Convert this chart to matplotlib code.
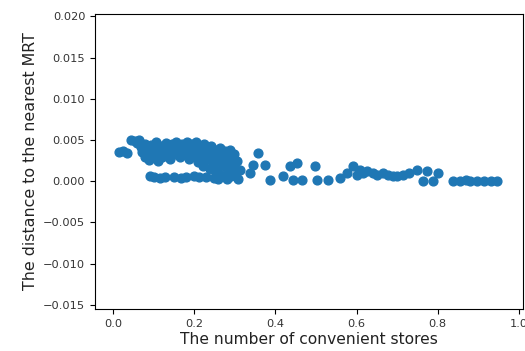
import numpy as np
import matplotlib
matplotlib.use("Agg")
import matplotlib.pyplot as plt

# convenient stores (normalised) vs distance to nearest MRT (normalised)
stores = [
    0.015, 0.025, 0.035, 0.045, 0.055, 0.060, 0.065, 0.070, 0.072, 0.078,
    0.080, 0.085, 0.088, 0.090, 0.092, 0.095, 0.098, 0.100, 0.102, 0.105,
    0.108, 0.110, 0.112, 0.115, 0.118, 0.120, 0.125, 0.128, 0.130, 0.135,
    0.138, 0.140, 0.145, 0.148, 0.150, 0.152, 0.155, 0.160, 0.162, 0.165,
    0.168, 0.170, 0.175, 0.178, 0.180, 0.182, 0.185, 0.188, 0.190, 0.195,
    0.198, 0.200, 0.202, 0.205, 0.208, 0.210, 0.212, 0.215, 0.218, 0.220,
    0.222, 0.225, 0.228, 0.230, 0.232, 0.235, 0.238, 0.240, 0.242, 0.245,
    0.248, 0.250, 0.252, 0.255, 0.258, 0.260, 0.262, 0.265, 0.268, 0.270,
    0.272, 0.275, 0.278, 0.280, 0.282, 0.285, 0.288, 0.290, 0.292, 0.295,
    0.298, 0.300, 0.305, 0.308, 0.313,
    0.337, 0.345, 0.357, 0.374, 0.387, 0.419, 0.436, 0.443, 0.453, 0.465,
    0.497, 0.502, 0.530, 0.559, 0.576, 0.591, 0.600, 0.608, 0.617, 0.626,
    0.640, 0.650, 0.665, 0.678, 0.690, 0.700, 0.715, 0.730, 0.750, 0.764,
    0.773, 0.788, 0.800, 0.837, 0.855, 0.870, 0.880, 0.897, 0.913, 0.930,
    0.946,
]
mrt_dist = [
    0.0035, 0.0037, 0.0034, 0.0050, 0.0049, 0.0046, 0.0050, 0.0042, 0.0036, 0.0030,
    0.0045, 0.0040, 0.0033, 0.0026, 0.0006, 0.0044, 0.0038, 0.0031, 0.0005, 0.0048,
    0.0040, 0.0035, 0.0025, 0.0004, 0.0043, 0.0030, 0.0037, 0.0005, 0.0046, 0.0041,
    0.0032, 0.0027, 0.0045, 0.0038, 0.0005, 0.0033, 0.0048, 0.0042, 0.0036, 0.0029,
    0.0004, 0.0045, 0.0039, 0.0033, 0.0005, 0.0048, 0.0042, 0.0027, 0.0036, 0.0045,
    0.0031, 0.0006, 0.0040, 0.0048, 0.0035, 0.0024, 0.0005, 0.0043, 0.0038, 0.0030,
    0.0018, 0.0045, 0.0033, 0.0005, 0.0040, 0.0026, 0.0036, 0.0015, 0.0043, 0.0031,
    0.0004, 0.0022, 0.0038, 0.0012, 0.0028, 0.0003, 0.0034, 0.0040, 0.0018, 0.0030,
    0.0008, 0.0037, 0.0024, 0.0003, 0.0032, 0.0014, 0.0038, 0.0027, 0.0006, 0.0020,
    0.0033, 0.0010, 0.0025, 0.0003, 0.0014,
    0.0010, 0.0020, 0.0034, 0.0020, 0.0002, 0.0006, 0.0018, 0.0002, 0.0022, 0.0002,
    0.0018, 0.0002, 0.0002, 0.0004, 0.0010, 0.0018, 0.0008, 0.0014, 0.0010, 0.0012,
    0.0010, 0.0008, 0.0010, 0.0008, 0.0006, 0.0006, 0.0008, 0.0010, 0.0014, 0.0000,
    0.0012, 0.0000, 0.0010, 0.0000, 0.0000, 0.0001, 0.0000, 0.0000, 0.0000, 0.0000,
    0.0000,
]

fig = plt.figure(figsize=(5.25, 3.51), dpi=100)
ax = fig.add_axes([95 / 525, 42 / 351, 428 / 525, 295 / 351])
ax.scatter(stores, mrt_dist, s=40, color="#1f77b4")

ax.set_xlim(-0.044, 1.01)
ax.set_ylim(-0.0155, 0.0203)
ax.set_xticks(np.arange(0, 1.01, 0.2))
ax.set_yticks(np.arange(-0.015, 0.0201, 0.005))
ax.set_yticklabels(["−0.015", "−0.010", "−0.005", "0.000", "0.005", "0.010", "0.015", "0.020"])
ax.tick_params(labelsize=8.2, labelcolor="#333333")

ax.set_xlabel("The number of convenient stores", fontsize=11.2, labelpad=2, color="#222222")
ax.set_ylabel("The distance to the nearest MRT", fontsize=11.4, color="#222222")

fig.savefig("out.png", dpi=100)
